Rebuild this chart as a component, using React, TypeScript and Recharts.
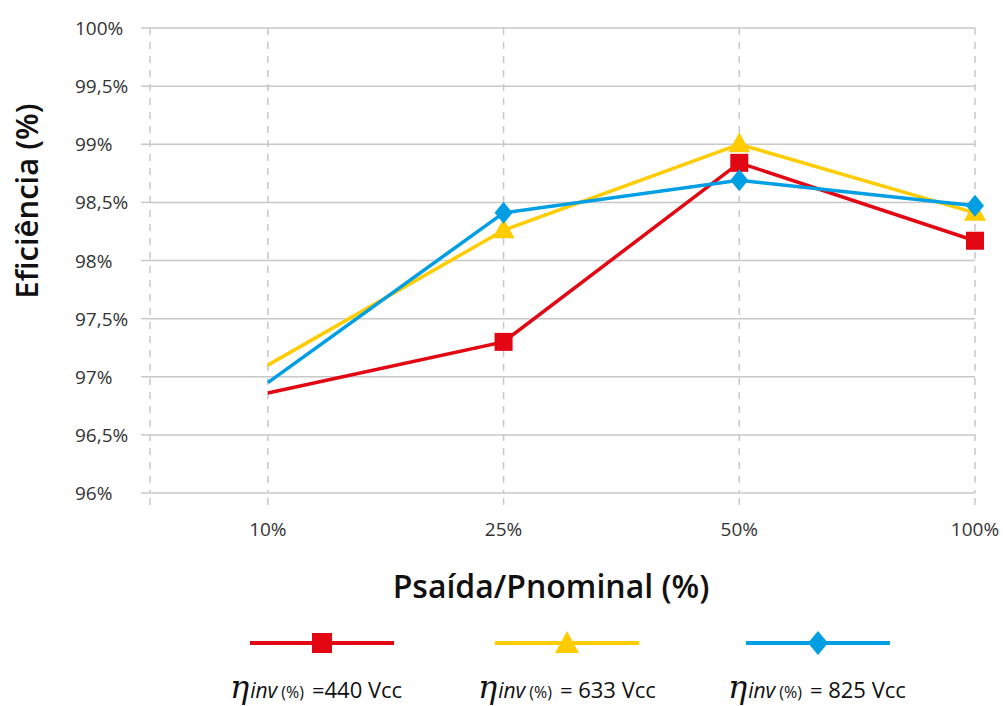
import { LineChart, Line, XAxis, YAxis, CartesianGrid } from 'recharts';

// valores
const categories = ['10%', '25%', '50%', '100%'];
const eff440 = [96.86, 97.3, 98.84, 98.17];
const eff633 = [97.1, 98.26, 99.0, 98.41];
const eff825 = [96.95, 98.41, 98.69, 98.47];
const yTicks = [96, 96.5, 97, 97.5, 98, 98.5, 99, 99.5, 100];
const xTicks = [0.5, 1, 2, 3, 4];
const legendLabels = ['=440 Vcc', '= 633 Vcc', '= 825 Vcc'];

const RED = '#E30613';
const YELLOW = '#FFCC00';
const BLUE = '#009FE3';
const GRID = '#c8c8c8';
const FONT = '"Open Sans", Lato, sans-serif';

const chartData = categories.map((label, i) => ({
  x: i + 1,
  label,
  v440: eff440[i],
  v633: eff633[i],
  v825: eff825[i],
}));

const fmtY = (v: number) => String(v).replace('.', ',') + '%';

function SquareDot(props: any) {
  const { cx, cy, index } = props;
  if (index === 0 || cx == null) return <g key={`s${index}`} />;
  return <rect key={`s${index}`} x={cx - 9} y={cy - 9} width={18} height={18} fill={RED} />;
}

function TriangleDot(props: any) {
  const { cx, cy, index } = props;
  if (index === 0 || cx == null) return <g key={`t${index}`} />;
  return (
    <path
      key={`t${index}`}
      d={`M${cx},${cy - 12} L${cx + 11},${cy + 8} L${cx - 11},${cy + 8} Z`}
      fill={YELLOW}
    />
  );
}

function DiamondDot(props: any) {
  const { cx, cy, index } = props;
  if (index === 0 || cx == null) return <g key={`d${index}`} />;
  return (
    <path
      key={`d${index}`}
      d={`M${cx},${cy - 11} L${cx + 9},${cy} L${cx},${cy + 11} L${cx - 9},${cy} Z`}
      fill={BLUE}
    />
  );
}

function YTick(props: any) {
  const { y, payload } = props;
  return (
    <text x={75} y={y} dy={7} textAnchor="start" fontSize={19} fill="#333" fontFamily={FONT}>
      {fmtY(payload.value)}
    </text>
  );
}

const legendItems = [
  { color: RED, cx: 322, marker: 'square' },
  { color: YELLOW, cx: 567, marker: 'triangle' },
  { color: BLUE, cx: 818, marker: 'diamond' },
];
const legendTextX = [230, 478, 728];

export default function App() {
  return (
    <div style={{ position: 'relative', width: 1003, height: 706, background: '#fff' }}>
      <style>{`body{margin:0}`}</style>
      <LineChart
        width={1003}
        height={706}
        data={chartData}
        margin={{ top: 28, right: 28, left: 0, bottom: 173 }}
      >
        <CartesianGrid horizontal={true} vertical={false} stroke={GRID} strokeWidth={1.5} />
        <CartesianGrid
          horizontal={false}
          vertical={true}
          stroke={GRID}
          strokeWidth={1.5}
          strokeDasharray="7 7"
        />
        <XAxis
          dataKey="x"
          type="number"
          domain={[0.5, 4]}
          ticks={xTicks}
          axisLine={false}
          tickSize={12}
          tickLine={{ stroke: GRID, strokeWidth: 1.5, strokeDasharray: '7 7' }}
          tickMargin={18}
          height={40}
          tick={{ fontSize: 19, fill: '#333', fontFamily: FONT }}
          tickFormatter={(v: number) => (Number.isInteger(v) ? categories[v - 1] : '')}
        />
        <YAxis
          type="number"
          domain={[96, 100]}
          ticks={yTicks}
          width={150}
          axisLine={false}
          tickSize={9}
          tickLine={{ stroke: GRID, strokeWidth: 1.5 }}
          tick={<YTick />}
        />
        <Line
          dataKey="v440"
          stroke={RED}
          strokeWidth={3.5}
          dot={SquareDot}
          activeDot={false}
          isAnimationActive={false}
        />
        <Line
          dataKey="v633"
          stroke={YELLOW}
          strokeWidth={3.5}
          dot={TriangleDot}
          activeDot={false}
          isAnimationActive={false}
        />
        <Line
          dataKey="v825"
          stroke={BLUE}
          strokeWidth={3.5}
          dot={DiamondDot}
          activeDot={false}
          isAnimationActive={false}
        />
      </LineChart>

      <svg
        width={1003}
        height={706}
        style={{ position: 'absolute', left: 0, top: 0, pointerEvents: 'none' }}
      >
        <text
          transform="translate(38,201) rotate(-90)"
          textAnchor="middle"
          fontSize={31}
          fontWeight={600}
          fill="#111"
          fontFamily={FONT}
        >
          Eficiência (%)
        </text>
        <text
          x={551}
          y={598}
          textAnchor="middle"
          fontSize={32}
          fontWeight={600}
          fill="#111"
          fontFamily={FONT}
        >
          Psaída/Pnominal (%)
        </text>

        {legendItems.map((it, i) => (
          <g key={i}>
            <line x1={it.cx - 72} x2={it.cx + 72} y1={643} y2={643} stroke={it.color} strokeWidth={4} />
            {it.marker === 'square' && (
              <rect x={it.cx - 10} y={633} width={20} height={20} fill={it.color} />
            )}
            {it.marker === 'triangle' && (
              <path d={`M${it.cx},631 L${it.cx + 12},653 L${it.cx - 12},653 Z`} fill={it.color} />
            )}
            {it.marker === 'diamond' && (
              <path d={`M${it.cx},631 L${it.cx + 10},643 L${it.cx},655 L${it.cx - 10},643 Z`} fill={it.color} />
            )}
            <text x={legendTextX[i]} y={698} fill="#111" fontFamily={FONT}>
              <tspan fontSize={32} fontStyle="italic" fontFamily="'DejaVu Serif', serif">η</tspan>
              <tspan fontSize={21} fontStyle="italic" dx={1}>inv</tspan>
              <tspan fontSize={16} dx={4}>(%)</tspan>
              <tspan fontSize={22} dx={8}>{legendLabels[i]}</tspan>
            </text>
          </g>
        ))}
      </svg>
    </div>
  );
}
